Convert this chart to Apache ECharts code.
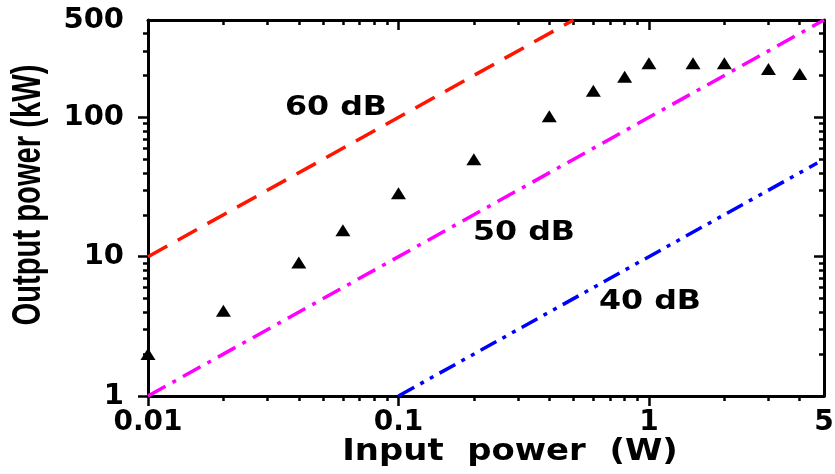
<!DOCTYPE html>
<html>
<head>
<meta charset="utf-8">
<script src="https://cdn.jsdelivr.net/npm/echarts@6/dist/echarts.min.js"></script>
<style>html,body{margin:0;padding:0;background:#fff}#c{width:835px;height:474px}</style>
</head>
<body>
<div id="c"></div>
<script>
// ---- data ----
var inputPower = [0.01, 0.02, 0.04, 0.06, 0.1, 0.2, 0.4, 0.6, 0.8, 1, 1.5, 2, 3, 4];
var outputPower = [2.0, 4.1, 9.1, 15.5, 28.5, 50, 102, 155, 196, 245, 245, 245, 222, 205];
var gain60 = [[0.01, 10], [0.5, 500]];
var gain50 = [[0.01, 1], [5, 500]];
var gain40 = [[0.1, 1], [4.7, 47]];
var xMajorTicks = [0.01, 0.1, 1];
var xMinorTicks = [0.02,0.03,0.04,0.05,0.06,0.07,0.08,0.09,0.2,0.3,0.4,0.5,0.6,0.7,0.8,0.9,2,3,4];
var xTickLabels = [0.01, 0.1, 1, 5];
var yMajorTicks = [1, 10, 100];
var yMinorTicks = [2,3,4,5,6,7,8,9,20,30,40,50,60,70,80,90,200,300,400];
var yTickLabels = [1, 10, 100, 500];
var gainLabels = ['60 dB', '50 dB', '40 dB'];
var xTitle = 'Input  power  (W)';
var yTitle = 'Output power (kW)';

var FONT = '"DejaVu Sans", Verdana, sans-serif';
var chart = echarts.init(document.getElementById('c'), null, {renderer: 'canvas'});

function xAx(pos, ticks, len, inside, showLine, labels) {
  return {
    type: 'log', logBase: 10, min: 0.01, max: 5, position: pos,
    axisLine: {show: showLine, onZero: false, lineStyle: {color: '#000', width: 3}},
    axisTick: {show: true, customValues: ticks, length: len, inside: inside, lineStyle: {color: '#000', width: 2.5}},
    axisLabel: labels ? {show: true, customValues: labels, margin: 13, color: '#000', fontFamily: FONT, fontWeight: 'bold', fontSize: 28,
      formatter: function (v) { return String(+v.toPrecision(6)); }} : {show: false},
    splitLine: {show: false}, minorTick: {show: false}, minorSplitLine: {show: false}
  };
}
function yAx(pos, ticks, len, inside, showLine, labels) {
  return {
    type: 'log', logBase: 10, min: 1, max: 500, position: pos,
    axisLine: {show: showLine, onZero: false, lineStyle: {color: '#000', width: 3}},
    axisTick: {show: true, customValues: ticks, length: len, inside: inside, lineStyle: {color: '#000', width: 2.5}},
    axisLabel: labels ? {show: true, customValues: labels, margin: 24, color: '#000', fontFamily: FONT, fontWeight: 'bold', fontSize: 29,
      formatter: function (v) { return String(+v.toPrecision(6)); }} : {show: false},
    splitLine: {show: false}, minorTick: {show: false}, minorSplitLine: {show: false}
  };
}
function dbText(txt, x, y) {
  return {type: 'text', x: x, y: y, scaleX: 1.22, scaleY: 1,
    style: {text: txt, font: 'bold 26px ' + FONT, fill: '#000', align: 'center', verticalAlign: 'middle'}};
}

var option = {
  backgroundColor: '#fff',
  animation: false,
  grid: {left: 148, right: 11, top: 20, bottom: 78, containLabel: false, outerBoundsMode: 'none'},
  xAxis: [
    xAx('bottom', xMajorTicks, 10, false, true, xTickLabels),
    xAx('bottom', xMinorTicks, 5, false, false, null),
    xAx('top', xMajorTicks, 10, true, true, null),
    xAx('top', xMinorTicks, 5, true, false, null)
  ],
  yAxis: [
    yAx('left', yMajorTicks, 10, false, true, yTickLabels),
    yAx('left', yMinorTicks, 5, false, false, null),
    yAx('right', yMajorTicks, 10, true, true, null),
    yAx('right', yMinorTicks, 5, true, false, null)
  ],
  series: [
    {type: 'line', data: gain60, showSymbol: false, symbol: 'none', xAxisIndex: 0, yAxisIndex: 0,
      lineStyle: {color: '#ff1500', width: 3.5, type: [22, 12]}},
    {type: 'line', data: gain50, showSymbol: false, symbol: 'none', xAxisIndex: 0, yAxisIndex: 0,
      lineStyle: {color: '#ff00ff', width: 3.5, type: [20, 8, 4, 8]}},
    {type: 'line', data: gain40, showSymbol: false, symbol: 'none', xAxisIndex: 0, yAxisIndex: 0,
      lineStyle: {color: '#0000ff', width: 3.5, type: [18, 7, 4, 7, 4, 7]}},
    {type: 'scatter', xAxisIndex: 0, yAxisIndex: 0, symbol: 'triangle', symbolSize: [15, 12],
      itemStyle: {color: '#000', opacity: 1},
      data: inputPower.map(function (x, i) { return [x, outputPower[i]]; })}
  ],
  graphic: [
    dbText(gainLabels[0], 336, 108),
    dbText(gainLabels[1], 524, 233),
    dbText(gainLabels[2], 650, 302),
    {type: 'text', x: 510, y: 452, scaleX: 1.13, scaleY: 1,
      style: {text: xTitle, font: 'bold 30px ' + FONT, fill: '#000', align: 'center', verticalAlign: 'middle'}},
    {type: 'text', x: 29, y: 195, rotation: Math.PI / 2, scaleX: 0.73, scaleY: 1,
      style: {text: yTitle, font: 'bold 40px "Liberation Sans", Arial, sans-serif', fill: '#000', align: 'center', verticalAlign: 'middle'}}
  ]
};
chart.setOption(option);
</script>
</body>
</html>
